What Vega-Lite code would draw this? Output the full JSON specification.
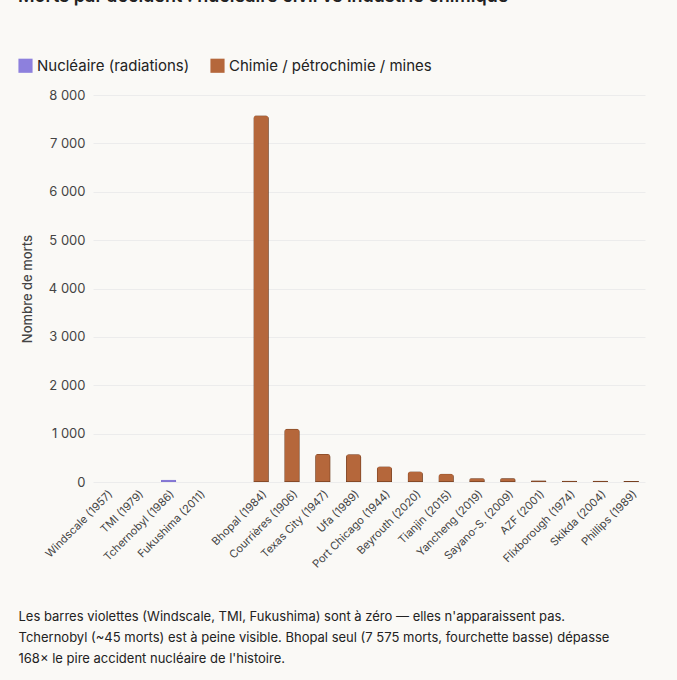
{
"$schema":"https://vega.github.io/schema/vega-lite/v6.json",
"width":552,"height":387,
"autosize":{"type":"none"},
"padding":{"left":93,"top":95,"right":32,"bottom":198},
"background":"#faf9f6",
"title":{"text":"Morts par accident : nucléaire civil vs industrie chimique","anchor":"start","font":"Inter","fontSize":18,"fontWeight":600,"color":"#222","frame":"group","offset":52,"dx":-75},
"data":{"values":[
{"accident":"Windscale (1957)","type":"Nucléaire (radiations)","morts":0},
{"accident":"TMI (1979)","type":"Nucléaire (radiations)","morts":0},
{"accident":"Tchernobyl (1986)","type":"Nucléaire (radiations)","morts":45},
{"accident":"Fukushima (2011)","type":"Nucléaire (radiations)","morts":0},
{"accident":"Bhopal (1984)","type":"Chimie / pétrochimie / mines","morts":7575},
{"accident":"Courrières (1906)","type":"Chimie / pétrochimie / mines","morts":1099},
{"accident":"Texas City (1947)","type":"Chimie / pétrochimie / mines","morts":581},
{"accident":"Ufa (1989)","type":"Chimie / pétrochimie / mines","morts":575},
{"accident":"Port Chicago (1944)","type":"Chimie / pétrochimie / mines","morts":320},
{"accident":"Beyrouth (2020)","type":"Chimie / pétrochimie / mines","morts":218},
{"accident":"Tianjin (2015)","type":"Chimie / pétrochimie / mines","morts":173},
{"accident":"Yancheng (2019)","type":"Chimie / pétrochimie / mines","morts":78},
{"accident":"Sayano-S. (2009)","type":"Chimie / pétrochimie / mines","morts":75},
{"accident":"AZF (2001)","type":"Chimie / pétrochimie / mines","morts":31},
{"accident":"Flixborough (1974)","type":"Chimie / pétrochimie / mines","morts":28},
{"accident":"Skikda (2004)","type":"Chimie / pétrochimie / mines","morts":27},
{"accident":"Phillips (1989)","type":"Chimie / pétrochimie / mines","morts":23}
]},
"mark":{"type":"bar","cornerRadiusTopLeft":3,"cornerRadiusTopRight":3,"strokeWidth":1,"width":{"band":0.7}},
"encoding":{
"x":{"field":"accident","type":"nominal","sort":null,
"scale":{"domain":["Windscale (1957)","TMI (1979)","Tchernobyl (1986)","Fukushima (2011)"," ","Bhopal (1984)","Courrières (1906)","Texas City (1947)","Ufa (1989)","Port Chicago (1944)","Beyrouth (2020)","Tianjin (2015)","Yancheng (2019)","Sayano-S. (2009)","AZF (2001)","Flixborough (1974)","Skikda (2004)","Phillips (1989)"],"paddingInner":0.3,"paddingOuter":0.1},
"axis":{"labelAngle":-45,"labelFont":"Inter","labelFontSize":11,"labelColor":"#444","domain":false,"ticks":false,"labelPadding":6,
"title":["Les barres violettes (Windscale, TMI, Fukushima) sont à zéro — elles n'apparaissent pas.","Tchernobyl (~45 morts) est à peine visible. Bhopal seul (7 575 morts, fourchette basse) dépasse","168× le pire accident nucléaire de l'histoire."],
"titleAnchor":"start","titleAlign":"left","titleBaseline":"top","titleX":-75,"titleY":128,"titleFont":"Inter","titleFontSize":13,"titleFontWeight":"normal","titleColor":"#222","titleLineHeight":21,"titleLimit":0}},
"y":{"field":"morts","type":"quantitative","scale":{"domain":[0,8000]},
"axis":{"title":"Nombre de morts","titleFont":"Inter","titleFontSize":13,"titleFontWeight":500,"titleColor":"#444","titlePadding":14,"labelFont":"Inter","labelFontSize":13,"labelColor":"#444","format":",d","tickCount":8,"domain":false,"ticks":false,"gridColor":"#ececec","labelPadding":8}},
"color":{"field":"type","type":"nominal","scale":{"domain":["Nucléaire (radiations)","Chimie / pétrochimie / mines"],"range":["#8d80dd","#b5673b"]},
"legend":{"orient":"none","legendX":-75,"legendY":-37,"direction":"horizontal","title":null,"symbolType":"square","symbolSize":200,"symbolStrokeWidth":0,"labelFont":"Inter","labelFontSize":15,"labelColor":"#222","labelLimit":0,"columnPadding":20,"padding":0}},
"stroke":{"field":"type","type":"nominal","scale":{"domain":["Nucléaire (radiations)","Chimie / pétrochimie / mines"],"range":["#7a6cc9","#5a2e15"]},"legend":null}
},
"config":{"locale":{"number":{"decimal":",","thousands":" ","grouping":[3],"currency":["","€"]}},"view":{"stroke":null}}
}
